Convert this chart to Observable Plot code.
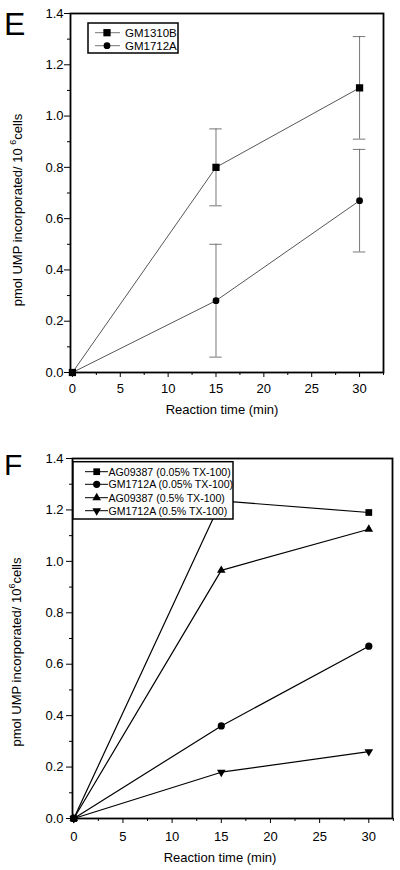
<!DOCTYPE html>
<html><head><meta charset="utf-8">
<script src="https://cdn.jsdelivr.net/npm/d3@7"></script>
<script src="https://cdn.jsdelivr.net/npm/@observablehq/plot@0.6"></script>
<style>
html,body{margin:0;padding:0;background:#fff;}
#chart{position:relative;width:400px;height:870px;overflow:hidden;}
#chart svg{position:absolute;left:0;display:block;overflow:visible;}
</style></head><body><div id="chart"></div>
<script>
// ---- data ----
const times = [0, 15, 30];

const seriesE = ["GM1310B", "GM1712A"];
const gm1310bMean = [0, 0.80, 1.11];
const gm1310bErr  = [0, 0.15, 0.20];
const gm1712aMean = [0, 0.28, 0.67];
const gm1712aErr  = [0, 0.22, 0.20];

const seriesF = ["AG09387 (0.05% TX-100)", "GM1712A (0.05% TX-100)", "AG09387 (0.5% TX-100)", "GM1712A (0.5% TX-100)"];
const ag09387Low  = [0, 1.235, 1.19];
const gm1712aLow  = [0, 0.36, 0.67];
const ag09387High = [0, 0.965, 1.125];
const gm1712aHigh = [0, 0.18, 0.26];

const xMajorTicks = [0, 5, 10, 15, 20, 25, 30];
const xMinorTicks = [2.5, 7.5, 12.5, 17.5, 22.5, 27.5, 32.5];
const yMajorTicks = [0, 0.2, 0.4, 0.6, 0.8, 1.0, 1.2, 1.4];
const yMinorTicks = [0.1, 0.3, 0.5, 0.7, 0.9, 1.1, 1.3];
const xTitle = "Reaction time (min)";
const yTitleMain = "pmol UMP incorporated/ 10";
const yTitleSup = "6";
const yTitleEnd = "cells";

// ---- helpers ----
const FONT = "'Liberation Sans', Arial, Helvetica, sans-serif";
const triangleDown = {
  draw(ctx, size) {
    const y = Math.sqrt(size / (Math.sqrt(3) * 3));
    ctx.moveTo(0, 2 * y);
    ctx.lineTo(-Math.sqrt(3) * y, -y);
    ctx.lineTo(Math.sqrt(3) * y, -y);
    ctx.closePath();
  }
};
const symMap = {square: d3.symbolSquare, circle: d3.symbolCircle, triangle: d3.symbolTriangle, triangleDown: triangleDown};
const toRows = (name, vals) => times.map((t, i) => ({s: name, t, v: vals[i]}));

function axes(tickPadX, tickPadY) {
  return [
    Plot.axisY({ticks: yMajorTicks, tickSize: 6, tickPadding: tickPadY, tickFormat: d3.format(".1f"), label: null, stroke: "black", fill: "black"}),
    Plot.axisY({ticks: yMinorTicks, tickSize: 3, tickFormat: () => "", fill: "none", label: null, stroke: "black"}),
    Plot.axisX({ticks: xMajorTicks, tickSize: 5, tickPadding: tickPadX, tickFormat: d => String(d), label: null, stroke: "black", fill: "black"}),
    Plot.axisX({ticks: xMinorTicks, tickSize: 3, tickFormat: () => "", fill: "none", label: null, stroke: "black"})
  ];
}

function decorate(svg, o) {
  const g = d3.select(svg).append("g").attr("font-family", FONT).attr("fill", "black").attr("text-anchor", "start");
  // panel letter
  g.append("text").attr("x", o.letterX).attr("y", o.letterY).attr("font-size", o.letterSize).text(o.letter);
  // y title
  const yt = g.append("text").attr("transform", `translate(${o.yTitleX},${o.yTitleY}) rotate(-90)`)
    .attr("text-anchor", "middle").attr("font-size", 13);
  yt.append("tspan").text(yTitleMain + o.gap);
  yt.append("tspan").attr("font-size", 9).attr("dy", -6).text(yTitleSup);
  yt.append("tspan").attr("dy", 6).text(yTitleEnd);
  // x title
  g.append("text").attr("x", o.xTitleX).attr("y", o.xTitleY).attr("text-anchor", "middle")
    .attr("font-size", 13).text(xTitle);
  // legend
  const L = o.legend;
  g.append("rect").attr("x", L.x).attr("y", L.y).attr("width", L.w).attr("height", L.h)
    .attr("fill", "white").attr("stroke", "black").attr("stroke-width", 1.5);
  L.items.forEach((it, i) => {
    const cy = L.rowY[i];
    g.append("line").attr("x1", L.lineX1).attr("x2", L.lineX2).attr("y1", cy).attr("y2", cy)
      .attr("stroke", L.lineColor).attr("stroke-width", L.lineWidth);
    g.append("path").attr("transform", `translate(${L.markX},${cy})`)
      .attr("d", d3.symbol().type(symMap[it.symbol]).size(Math.PI * it.r * it.r)())
      .attr("fill", "black");
    g.append("text").attr("x", L.textX).attr("y", cy + L.fontSize * 0.36).attr("font-size", L.fontSize)
      .attr("text-anchor", "start").text(it.label);
  });
}

const chart = document.getElementById("chart");

// ---- Panel E ----
const rowsE = [...toRows(seriesE[0], gm1310bMean), ...toRows(seriesE[1], gm1712aMean)];
const errE = [
  ...times.map((t, i) => ({t, lo: gm1310bMean[i] - gm1310bErr[i], hi: gm1310bMean[i] + gm1310bErr[i], e: gm1310bErr[i]})),
  ...times.map((t, i) => ({t, lo: gm1712aMean[i] - gm1712aErr[i], hi: gm1712aMean[i] + gm1712aErr[i], e: gm1712aErr[i]}))
].filter(d => d.e > 0);

const svgE = Plot.plot({
  width: 400, height: 435,
  marginTop: 13, marginBottom: 63, marginLeft: 70, marginRight: 17,
  style: {fontFamily: FONT, fontSize: "13px", background: "white", color: "black"},
  x: {domain: [-0.2, 32.5]},
  y: {domain: [0, 1.4]},
  marks: [
    ...axes(6, 1),
    Plot.ruleX(errE, {x: "t", y1: "lo", y2: "hi", stroke: "#555", strokeWidth: 0.8}),
    Plot.ruleY(errE, {y: "lo", x1: d => d.t - 0.65, x2: d => d.t + 0.65, stroke: "#555", strokeWidth: 0.8}),
    Plot.ruleY(errE, {y: "hi", x1: d => d.t - 0.65, x2: d => d.t + 0.65, stroke: "#555", strokeWidth: 0.8}),
    Plot.line(rowsE, {x: "t", y: "v", z: "s", stroke: "#444", strokeWidth: 0.9}),
    Plot.dot(rowsE.filter(d => d.s === seriesE[1]), {x: "t", y: "v", symbol: "circle", r: 3.4, fill: "black"}),
    Plot.dot(rowsE.filter(d => d.s === seriesE[0]), {x: "t", y: "v", symbol: "square", r: 4.1, fill: "black"}),
    Plot.frame({stroke: "black", strokeWidth: 1.8})
  ]
});
svgE.style.top = "0px";
chart.appendChild(svgE);
decorate(svgE, {
  letter: "E", letterX: 4, letterY: 35, letterSize: 32,
  yTitleX: 21.5, yTitleY: 210, gap: " ",
  xTitleX: 222, xTitleY: 413.5,
  legend: {
    x: 88, y: 23, w: 90, h: 30, rowY: [32.7, 45.7],
    lineX1: 95, lineX2: 120, markX: 107, textX: 125, fontSize: 11.5,
    lineColor: "#666", lineWidth: 0.9,
    items: [
      {label: seriesE[0], symbol: "square", r: 4.1},
      {label: seriesE[1], symbol: "circle", r: 3.4}
    ]
  }
});

// ---- Panel F ----
const rowsF = [
  ...toRows(seriesF[0], ag09387Low),
  ...toRows(seriesF[1], gm1712aLow),
  ...toRows(seriesF[2], ag09387High),
  ...toRows(seriesF[3], gm1712aHigh)
];
const svgF = Plot.plot({
  width: 400, height: 435,
  marginTop: 23, marginBottom: 52, marginLeft: 72, marginRight: 8,
  style: {fontFamily: FONT, fontSize: "13px", background: "white", color: "black"},
  x: {domain: [-0.13, 32.41]},
  y: {domain: [0, 1.4]},
  marks: [
    ...axes(8, 3),
    Plot.line(rowsF, {x: "t", y: "v", z: "s", stroke: "black", strokeWidth: 1.2}),
    Plot.dot(rowsF.filter(d => d.s === seriesF[0]), {x: "t", y: "v", symbol: "square", r: 3.8, fill: "black"}),
    Plot.dot(rowsF.filter(d => d.s === seriesF[1]), {x: "t", y: "v", symbol: "circle", r: 3.6, fill: "black"}),
    Plot.dot(rowsF.filter(d => d.s === seriesF[2]), {x: "t", y: "v", symbol: "triangle", r: 3.2, fill: "black"}),
    Plot.dot(rowsF.filter(d => d.s === seriesF[3]), {x: "t", y: "v", symbol: triangleDown, r: 3.2, fill: "black"}),
    Plot.frame({stroke: "black", strokeWidth: 1.8})
  ]
});
svgF.style.top = "435px";
chart.appendChild(svgF);
decorate(svgF, {
  letter: "F", letterX: 4, letterY: 40, letterSize: 30,
  yTitleX: 20.5, yTitleY: 217, gap: "",
  xTitleX: 220, xTitleY: 426.5,
  legend: {
    x: 73, y: 26.7, w: 160, h: 57.3, rowY: [36.7, 49.3, 62.7, 75.7],
    lineX1: 85, lineX2: 108, markX: 96.7, textX: 108.5, fontSize: 10.6,
    lineColor: "black", lineWidth: 1,
    items: [
      {label: seriesF[0], symbol: "square", r: 3.8},
      {label: seriesF[1], symbol: "circle", r: 3.6},
      {label: seriesF[2], symbol: "triangle", r: 3.2},
      {label: seriesF[3], symbol: "triangleDown", r: 3.2}
    ]
  }
});
</script></body></html>
